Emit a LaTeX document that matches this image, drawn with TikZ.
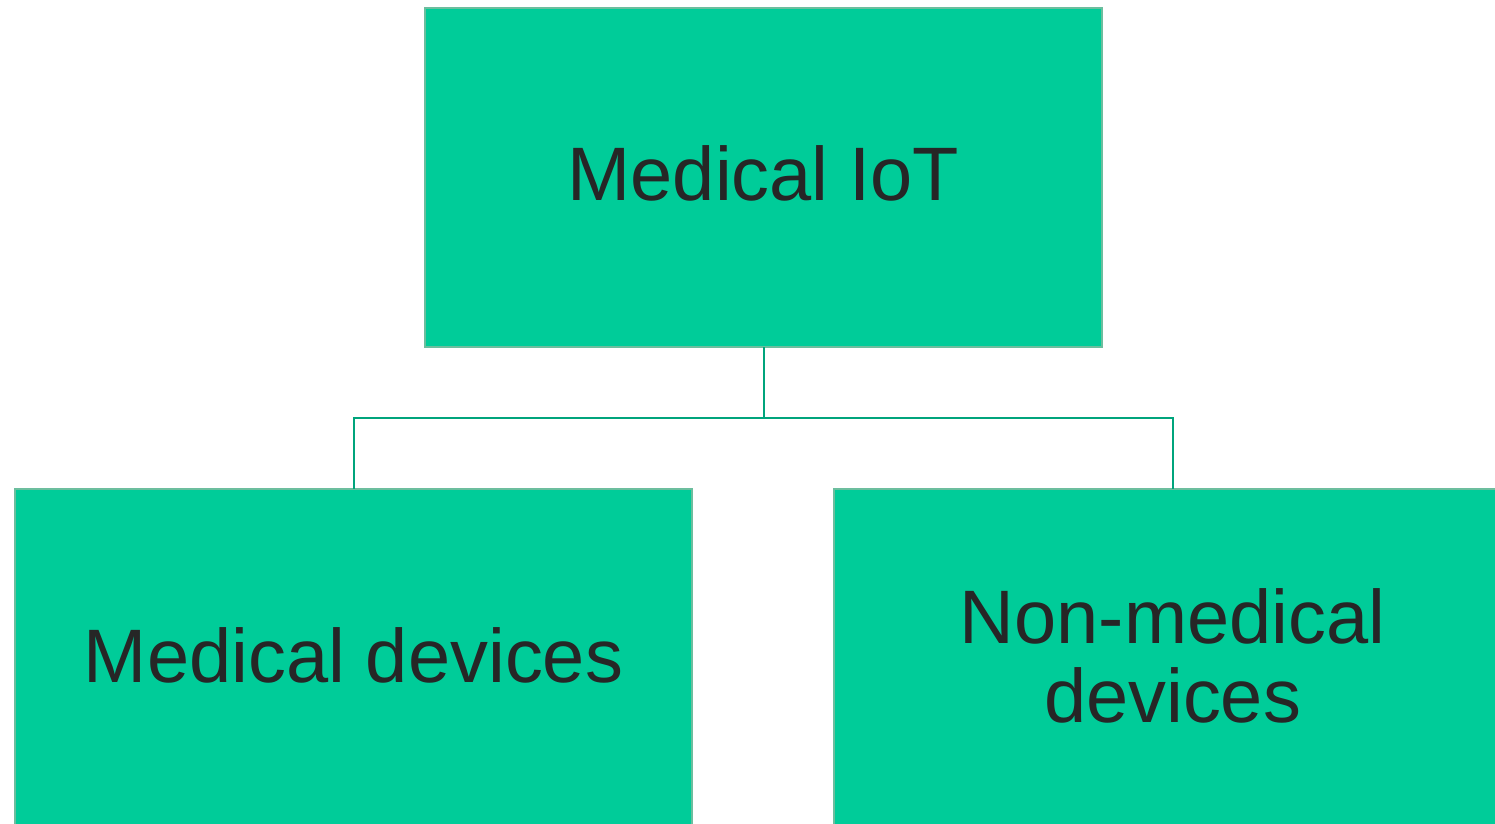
\documentclass[tikz,border=0pt]{standalone}
\usepackage{fontspec}
\setmainfont{Liberation Sans}
\definecolor{boxfill}{HTML}{00CC99}
\definecolor{boxline}{HTML}{6CBE9E}
\definecolor{conn}{HTML}{00A47C}
\definecolor{txt}{HTML}{262626}
\tikzset{
  catbox/.style={draw=boxline, line width=0.8pt, fill=boxfill, minimum width=338.5pt, minimum height=169.5pt,
    inner sep=0pt, outer sep=0pt},
  cattext/.style={inner sep=0pt, align=center, text=txt, font=\fontsize{37.9pt}{39.5pt}\selectfont},
  connline/.style={draw=conn, line width=1pt}
}
\begin{document}
\begin{tikzpicture}[x=0.5pt,y=-0.5pt]
\useasboundingbox (0,0) rectangle (1495,824);
\begin{scope}
\clip (0,0) rectangle (1495,824);
\node[catbox] (top) at (763.5,177.5) {};
\node[catbox] (left) at (353.5,658.5) {};
\node[catbox] (right) at (1172.5,658.5) {};
\node[cattext] (toptext) at ([yshift=2.2pt]top.center) {Medical IoT};
\node[cattext] (lefttext) at ([yshift=1.5pt]left.center) {Medical devices};
\node[cattext] (righttext) at ([yshift=1.5pt]right.center) {Non-medical\\devices};
\coordinate (mid) at (763.5,417.5);
\draw[connline] (top.south) -- (mid);
\draw[connline] (mid) -| (left.north);
\draw[connline] (mid) -| (right.north);
\end{scope}
\end{tikzpicture}
\end{document}
